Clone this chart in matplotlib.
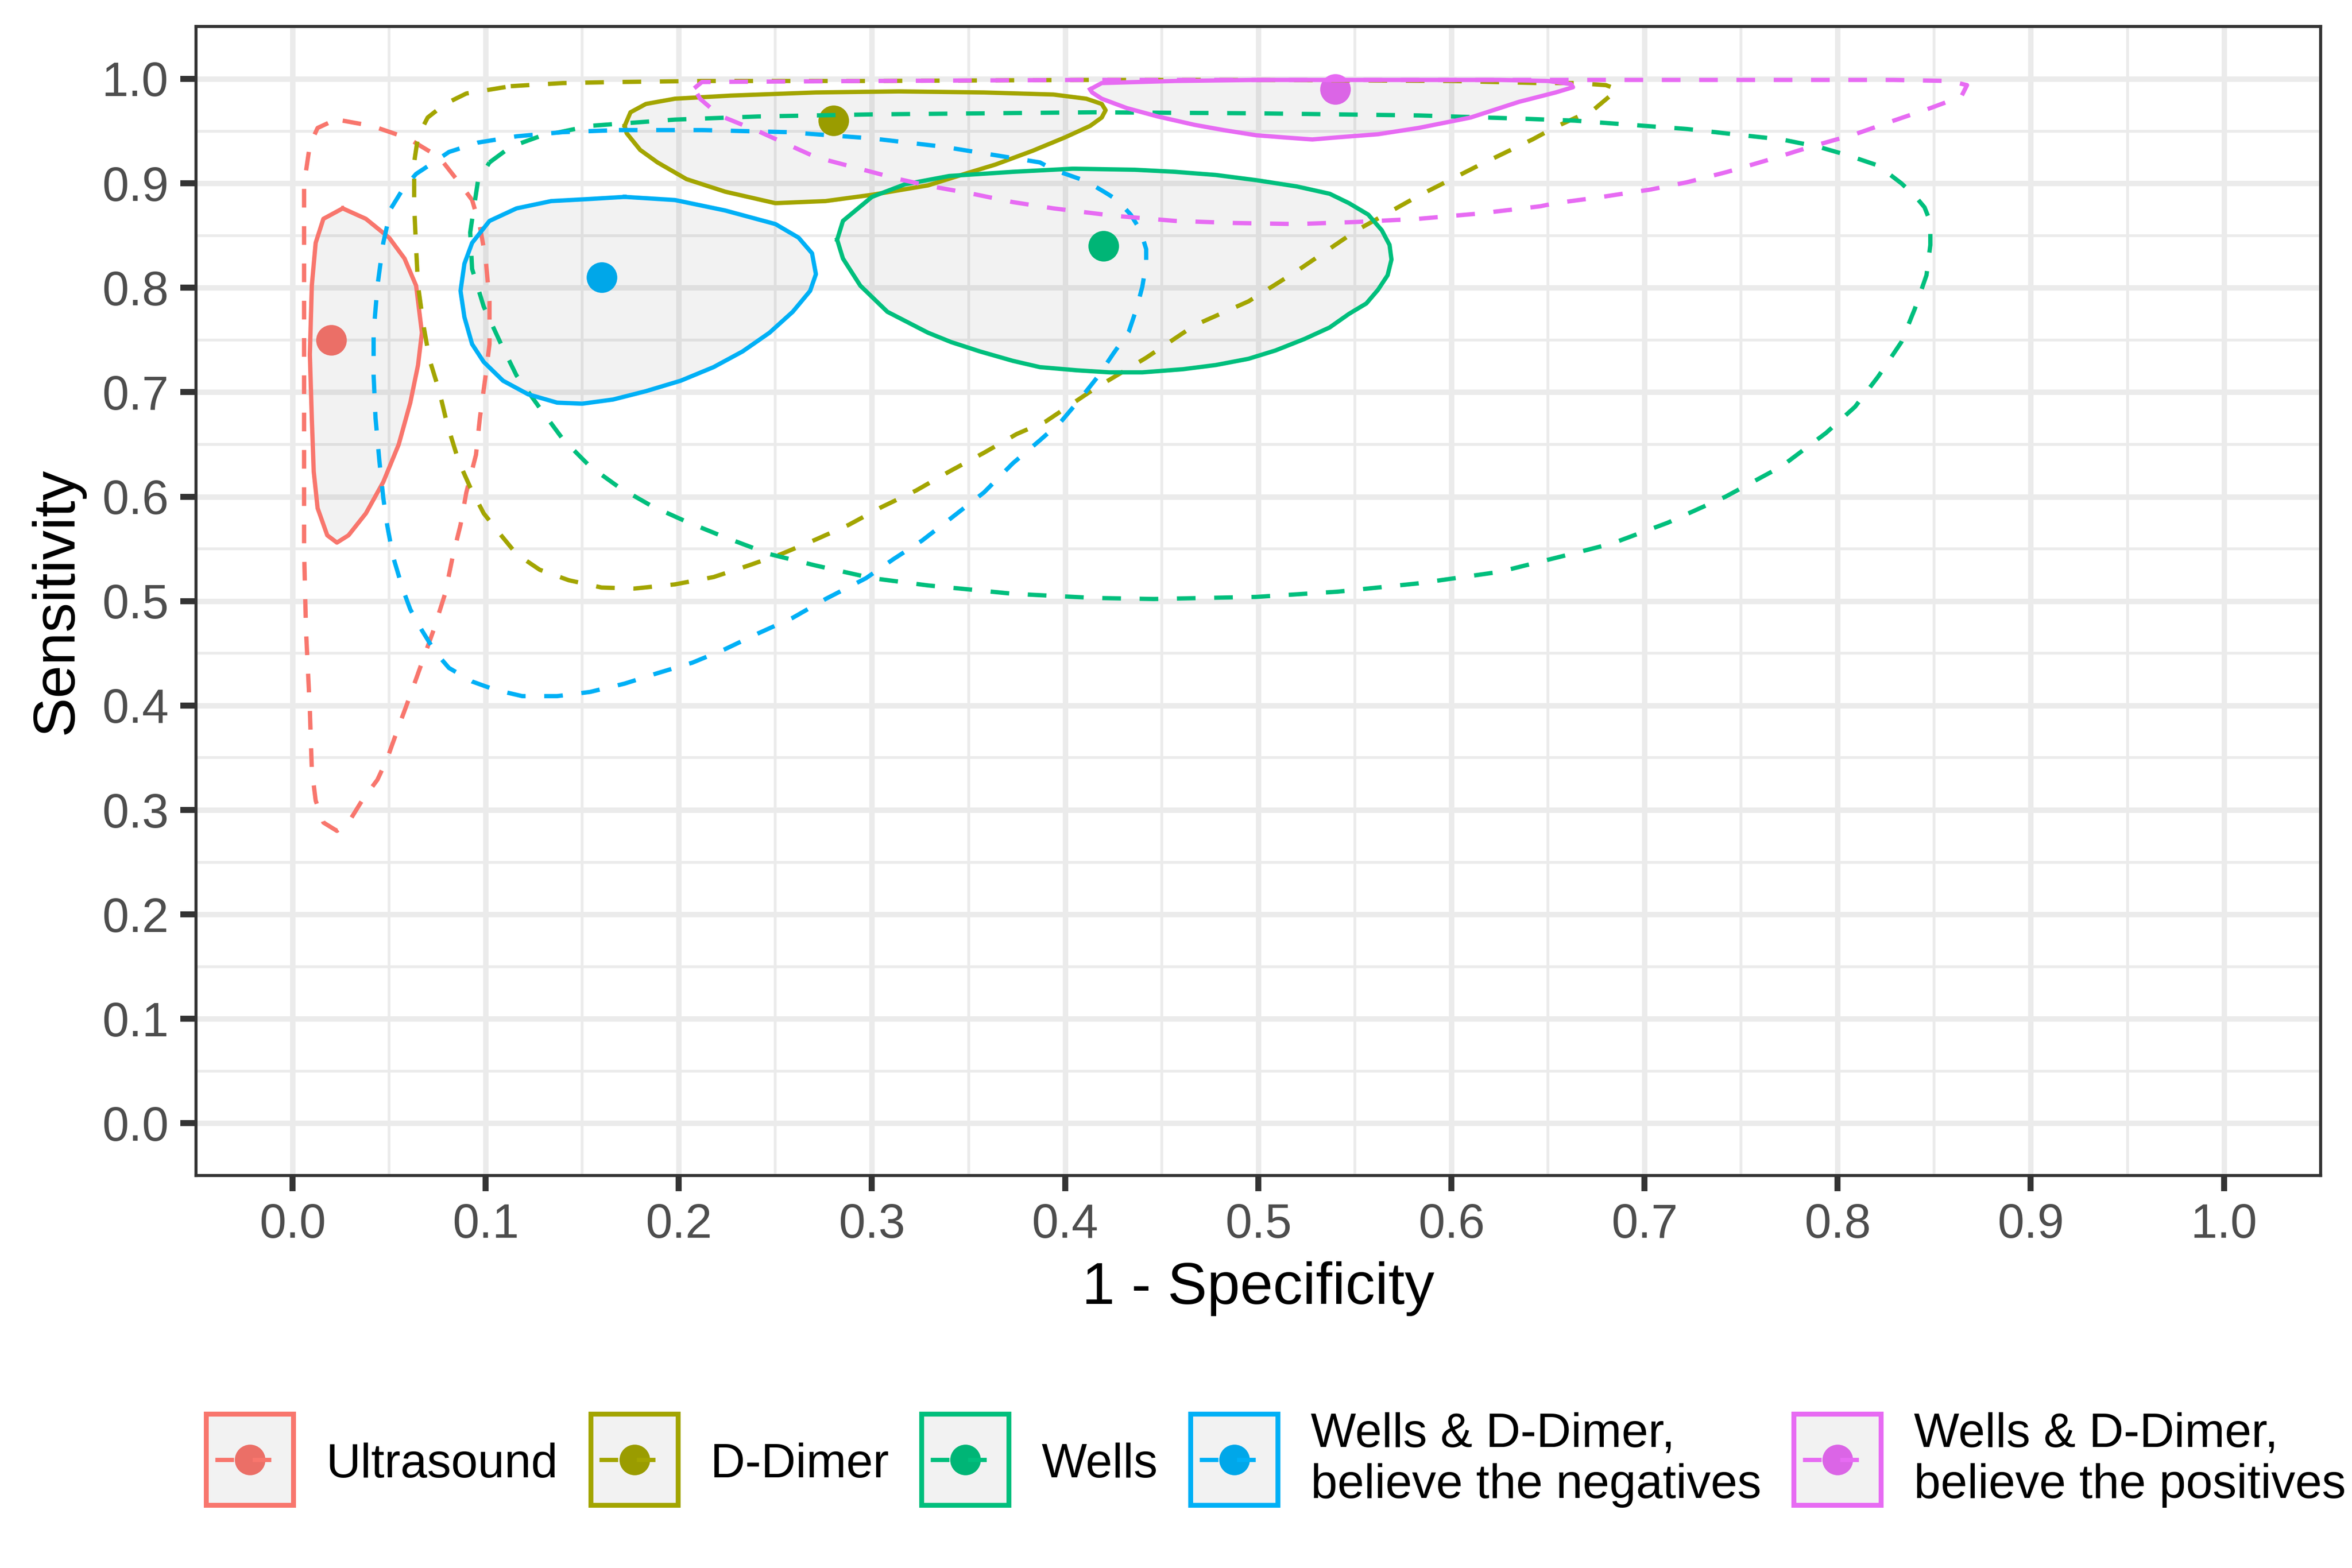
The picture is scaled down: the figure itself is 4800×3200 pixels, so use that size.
import numpy as np
import matplotlib
matplotlib.use("Agg")
import matplotlib.pyplot as plt
from matplotlib.lines import Line2D
from matplotlib.patches import Rectangle
from matplotlib.legend_handler import HandlerBase
from matplotlib.ticker import MultipleLocator, FormatStrFormatter

plt.rcParams['font.family'] = ['Liberation Sans', 'DejaVu Sans']

# ---- data ----
labels = ['Ultrasound', 'D-Dimer', 'Wells',
          'Wells & D-Dimer,\nbelieve the negatives',
          'Wells & D-Dimer,\nbelieve the positives']
colors = ['#F8766D', '#A3A500', '#00BF7D', '#00B0F6', '#E76BF3']

# summary points (1 - specificity, sensitivity)
fpr = [0.02, 0.28, 0.42, 0.16, 0.54]
sens = [0.75, 0.96, 0.84, 0.81, 0.99]

# confidence regions (solid)
us_conf = [(0.026, 0.876), (0.038, 0.866), (0.050, 0.848), (0.058, 0.828), (0.064, 0.802),
           (0.067, 0.757), (0.065, 0.726), (0.061, 0.690), (0.055, 0.650), (0.047, 0.614),
           (0.038, 0.584), (0.029, 0.563), (0.023, 0.556), (0.018, 0.563), (0.013, 0.589),
           (0.011, 0.624), (0.010, 0.675), (0.009, 0.736), (0.010, 0.802), (0.012, 0.843),
           (0.016, 0.866)]
dd_conf = [(0.172, 0.955), (0.175, 0.968), (0.183, 0.976), (0.198, 0.981), (0.227, 0.984),
           (0.271, 0.987), (0.314, 0.988), (0.358, 0.987), (0.394, 0.985), (0.411, 0.981),
           (0.419, 0.976), (0.421, 0.970), (0.419, 0.963), (0.413, 0.955), (0.400, 0.944),
           (0.383, 0.931), (0.364, 0.918), (0.348, 0.909), (0.329, 0.898), (0.300, 0.889),
           (0.276, 0.883), (0.250, 0.881), (0.224, 0.892), (0.204, 0.904), (0.189, 0.920),
           (0.180, 0.932), (0.173, 0.948)]
wells_conf = [(0.282, 0.846), (0.285, 0.864), (0.300, 0.887), (0.317, 0.899), (0.340, 0.907),
              (0.373, 0.911), (0.404, 0.914), (0.436, 0.913), (0.457, 0.911), (0.478, 0.908),
              (0.499, 0.903), (0.520, 0.897), (0.537, 0.890), (0.547, 0.881), (0.557, 0.870),
              (0.564, 0.855), (0.568, 0.841), (0.569, 0.827), (0.567, 0.812), (0.562, 0.798),
              (0.556, 0.785), (0.547, 0.775), (0.537, 0.762), (0.524, 0.751), (0.509, 0.740),
              (0.495, 0.732), (0.478, 0.726), (0.461, 0.722), (0.440, 0.719), (0.423, 0.719),
              (0.406, 0.721), (0.387, 0.724), (0.373, 0.730), (0.356, 0.739), (0.341, 0.748),
              (0.329, 0.757), (0.308, 0.777), (0.294, 0.802), (0.285, 0.828)]
neg_conf = [(0.172, 0.887), (0.198, 0.884), (0.224, 0.874), (0.250, 0.861), (0.262, 0.848),
            (0.269, 0.833), (0.271, 0.813), (0.268, 0.797), (0.259, 0.777), (0.247, 0.757),
            (0.233, 0.739), (0.218, 0.724), (0.201, 0.711), (0.183, 0.701), (0.166, 0.693),
            (0.150, 0.689), (0.137, 0.690), (0.122, 0.698), (0.109, 0.711), (0.099, 0.729),
            (0.093, 0.746), (0.089, 0.772), (0.087, 0.797), (0.089, 0.823), (0.093, 0.843),
            (0.102, 0.864), (0.116, 0.876), (0.134, 0.883), (0.154, 0.885)]
pos_conf = [(0.413, 0.990), (0.419, 0.996), (0.457, 0.998), (0.499, 0.999), (0.541, 0.999),
            (0.583, 0.999), (0.625, 0.999), (0.650, 0.998), (0.662, 0.995), (0.663, 0.992),
            (0.654, 0.987), (0.635, 0.978), (0.610, 0.963), (0.583, 0.953), (0.562, 0.947),
            (0.541, 0.944), (0.528, 0.942), (0.513, 0.944), (0.499, 0.946), (0.482, 0.951),
            (0.467, 0.956), (0.448, 0.964), (0.432, 0.972), (0.419, 0.981), (0.414, 0.987)]

# prediction regions (dashed)
us_pred = [(0.026, 0.960), (0.041, 0.955), (0.049, 0.950), (0.060, 0.943), (0.067, 0.935),
           (0.076, 0.925), (0.087, 0.899), (0.093, 0.884), (0.097, 0.859), (0.100, 0.828),
           (0.102, 0.787), (0.102, 0.746), (0.100, 0.716), (0.097, 0.675), (0.095, 0.640),
           (0.090, 0.604), (0.087, 0.573), (0.083, 0.543), (0.079, 0.507), (0.073, 0.472),
           (0.067, 0.441), (0.061, 0.410), (0.055, 0.380), (0.049, 0.349), (0.044, 0.329),
           (0.036, 0.309), (0.029, 0.288), (0.023, 0.280), (0.016, 0.288), (0.012, 0.309),
           (0.010, 0.339), (0.009, 0.395), (0.007, 0.472), (0.006, 0.548), (0.006, 0.624),
           (0.006, 0.726), (0.006, 0.828), (0.006, 0.899), (0.009, 0.937), (0.013, 0.953),
           (0.020, 0.959)]
dd_pred = [(0.113, 0.993), (0.140, 0.996), (0.169, 0.997), (0.212, 0.998), (0.300, 0.998),
           (0.407, 0.999), (0.500, 0.999), (0.600, 0.998), (0.645, 0.996), (0.664, 0.996),
           (0.680, 0.994), (0.686, 0.990), (0.683, 0.985), (0.674, 0.971), (0.654, 0.954),
           (0.642, 0.942), (0.614, 0.917), (0.583, 0.888), (0.551, 0.855), (0.520, 0.816),
           (0.495, 0.787), (0.467, 0.764), (0.442, 0.733), (0.415, 0.703), (0.390, 0.672),
           (0.375, 0.660), (0.358, 0.642), (0.340, 0.624), (0.323, 0.606), (0.305, 0.590),
           (0.288, 0.573), (0.271, 0.559), (0.253, 0.545), (0.236, 0.534), (0.218, 0.523),
           (0.198, 0.516), (0.177, 0.512), (0.160, 0.513), (0.143, 0.520), (0.128, 0.530),
           (0.116, 0.545), (0.108, 0.563), (0.099, 0.584), (0.092, 0.609), (0.086, 0.634),
           (0.080, 0.670), (0.076, 0.701), (0.071, 0.731), (0.068, 0.762), (0.065, 0.802),
           (0.064, 0.838), (0.063, 0.879), (0.063, 0.920), (0.065, 0.945), (0.070, 0.963),
           (0.079, 0.976), (0.090, 0.986)]
wells_pred = [(0.102, 0.920), (0.113, 0.935), (0.128, 0.945), (0.154, 0.955), (0.198, 0.961),
              (0.241, 0.964), (0.300, 0.966), (0.358, 0.967), (0.415, 0.968), (0.499, 0.967),
              (0.583, 0.965), (0.635, 0.962), (0.664, 0.960), (0.693, 0.956), (0.722, 0.952),
              (0.751, 0.946), (0.771, 0.942), (0.790, 0.935), (0.805, 0.927), (0.821, 0.917),
              (0.833, 0.900), (0.840, 0.888), (0.845, 0.877), (0.848, 0.863), (0.848, 0.841),
              (0.846, 0.812), (0.840, 0.780), (0.833, 0.748), (0.821, 0.715), (0.809, 0.686),
              (0.794, 0.661), (0.771, 0.629), (0.742, 0.600), (0.712, 0.575), (0.683, 0.555),
              (0.664, 0.546), (0.625, 0.528), (0.583, 0.517), (0.541, 0.509), (0.499, 0.504),
              (0.446, 0.502), (0.415, 0.503), (0.373, 0.507), (0.329, 0.515), (0.300, 0.522),
              (0.271, 0.534), (0.247, 0.545), (0.224, 0.561), (0.204, 0.576), (0.186, 0.591),
              (0.169, 0.609), (0.154, 0.629), (0.140, 0.655), (0.128, 0.685), (0.116, 0.716),
              (0.108, 0.746), (0.099, 0.782), (0.093, 0.818), (0.092, 0.853), (0.096, 0.902)]
neg_pred = [(0.169, 0.951), (0.212, 0.951), (0.256, 0.949), (0.300, 0.943), (0.337, 0.935),
            (0.387, 0.920), (0.394, 0.913), (0.411, 0.902), (0.421, 0.891), (0.427, 0.884),
            (0.434, 0.870), (0.439, 0.855), (0.442, 0.837), (0.442, 0.823), (0.440, 0.801),
            (0.437, 0.780), (0.433, 0.758), (0.425, 0.737), (0.417, 0.715), (0.408, 0.694),
            (0.398, 0.672), (0.387, 0.654), (0.373, 0.632), (0.358, 0.604), (0.340, 0.578),
            (0.326, 0.558), (0.311, 0.540), (0.297, 0.522), (0.276, 0.502), (0.259, 0.484),
            (0.241, 0.469), (0.224, 0.454), (0.207, 0.441), (0.189, 0.431), (0.172, 0.421),
            (0.154, 0.413), (0.137, 0.409), (0.119, 0.409), (0.105, 0.415), (0.093, 0.423),
            (0.081, 0.436), (0.074, 0.451), (0.067, 0.472), (0.061, 0.492), (0.057, 0.512),
            (0.052, 0.543), (0.049, 0.573), (0.047, 0.599), (0.045, 0.634), (0.043, 0.675),
            (0.042, 0.716), (0.042, 0.757), (0.044, 0.802), (0.047, 0.843), (0.051, 0.876),
            (0.057, 0.894), (0.064, 0.909), (0.073, 0.920), (0.081, 0.930), (0.096, 0.939),
            (0.116, 0.945), (0.140, 0.949)]
pos_pred = [(0.208, 0.991), (0.212, 0.997), (0.300, 0.998), (0.407, 0.999), (0.500, 0.999),
            (0.654, 0.999), (0.712, 0.999), (0.771, 0.999), (0.829, 0.999), (0.858, 0.998),
            (0.867, 0.994), (0.864, 0.983), (0.848, 0.972), (0.829, 0.960), (0.809, 0.947),
            (0.786, 0.935), (0.767, 0.924), (0.743, 0.911), (0.722, 0.901), (0.703, 0.894),
            (0.678, 0.887), (0.654, 0.881), (0.646, 0.878), (0.614, 0.871), (0.583, 0.866),
            (0.551, 0.863), (0.520, 0.861), (0.488, 0.862), (0.457, 0.864), (0.425, 0.869),
            (0.394, 0.876), (0.373, 0.882), (0.352, 0.890), (0.331, 0.897), (0.314, 0.904),
            (0.271, 0.925), (0.241, 0.950), (0.221, 0.965), (0.211, 0.981)]

conf_regions = [us_conf, dd_conf, wells_conf, neg_conf, pos_conf]
pred_regions = [us_pred, dd_pred, wells_pred, neg_pred, pos_pred]

LW = 2.1
DASH = (0, (4.35, 4.35))
SHADE = (0, 0, 0, 0.05)
MS = 15.0


def closed(pts):
    arr = np.array(pts + [pts[0]])
    return arr[:, 0], arr[:, 1]


class KeyHandler(HandlerBase):
    # boxed key: point, shaded square with coloured border, then dashed line on top
    def create_artists(self, legend, orig_handle, xdescent, ydescent, width, height, fontsize, trans):
        c = orig_handle.get_color()
        kh = 1.9 * fontsize
        cy = 0.36 * fontsize
        x0 = -xdescent
        dot = Line2D([x0 + width / 2], [cy], marker='o', ms=MS, color=c, lw=0,
                     markeredgewidth=0, transform=trans)
        rect = Rectangle((x0, cy - kh / 2), width, kh, facecolor=SHADE, edgecolor=c,
                         lw=2.4, transform=trans)
        line = Line2D([x0 + 0.1 * width, x0 + 0.9 * width], [cy, cy], color=c, lw=LW,
                      linestyle=DASH, transform=trans)
        return [dot, rect, line]


fig = plt.figure(figsize=(16, 10.6667), dpi=300)
ax = fig.add_axes([0.0833, 0.2503, 0.9033, 0.7327])

# points sit underneath the shaded confidence regions
for i in range(len(labels)):
    ax.plot(fpr[i], sens[i], 'o', color=colors[i], ms=MS, markeredgewidth=0, zorder=1.5)

for i in range(len(labels)):
    cx, cyv = closed(conf_regions[i])
    ax.fill(cx, cyv, facecolor=SHADE, edgecolor='none', zorder=2)

for i in range(len(labels)):
    cx, cyv = closed(conf_regions[i])
    ax.plot(cx, cyv, color=colors[i], lw=LW, zorder=3)
    px, py = closed(pred_regions[i])
    ax.plot(px, py, color=colors[i], lw=LW, linestyle=DASH, zorder=3)

ax.set_xlim(-0.05, 1.05)
ax.set_ylim(-0.05, 1.05)
ax.xaxis.set_major_locator(MultipleLocator(0.1))
ax.yaxis.set_major_locator(MultipleLocator(0.1))
ax.xaxis.set_minor_locator(MultipleLocator(0.05))
ax.yaxis.set_minor_locator(MultipleLocator(0.05))
ax.xaxis.set_major_formatter(FormatStrFormatter('%.1f'))
ax.yaxis.set_major_formatter(FormatStrFormatter('%.1f'))
ax.set_axisbelow(True)
ax.grid(which='major', color='#EBEBEB', lw=2.65)
ax.grid(which='minor', color='#EBEBEB', lw=1.35)
ax.tick_params(which='major', length=7.6, width=2.95, color='#333333',
               labelcolor='#4D4D4D', labelsize=23.5, pad=5.8)
ax.tick_params(which='minor', length=0)
for sp in ax.spines.values():
    sp.set_color('#333333')
    sp.set_linewidth(1.5)

ax.set_xlabel('1 - Specificity', fontsize=29, va='center')
ax.set_ylabel('Sensitivity', fontsize=29, va='center')
ax.xaxis.set_label_coords(0.5, -0.0985)
ax.yaxis.set_label_coords(-0.0654, 0.5)

proxies = [Line2D([], [], color=c) for c in colors]
fig.legend(proxies, labels, handler_map={Line2D: KeyHandler()}, loc='center',
           bbox_to_anchor=(0.5425, 0.069), ncol=5, frameon=False, fontsize=23.5,
           handlelength=1.82, handleheight=0.77, handletextpad=0.68, columnspacing=0.68,
           borderpad=0, borderaxespad=0)

fig.savefig('out.png', dpi=300, facecolor='white')
